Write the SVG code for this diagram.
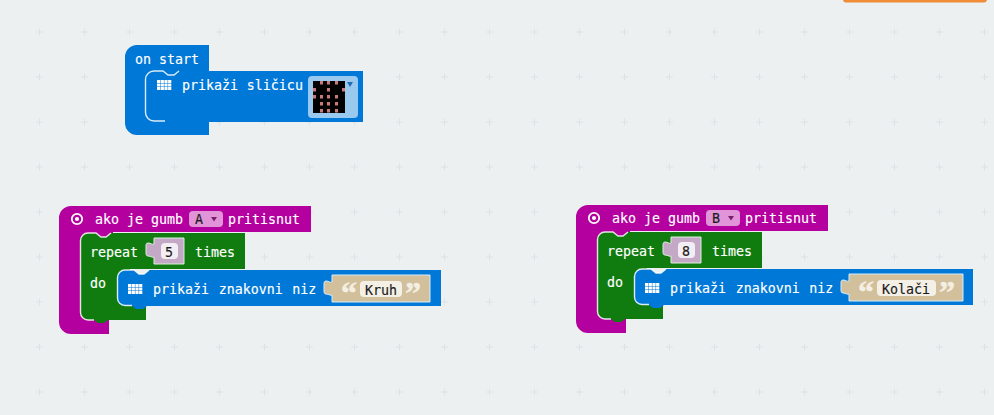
<svg xmlns="http://www.w3.org/2000/svg" width="994" height="415" viewBox="0 0 994 415">
<style>
text{font-family:"DejaVu Sans Mono","Liberation Mono",monospace;font-size:13.3px;fill:#fff;white-space:pre;stroke:#fff;stroke-width:.15}
text.dark{fill:#1b1b1b;stroke:#1b1b1b}
text.q{font-family:"Liberation Serif",serif;font-size:32px;font-weight:700;fill:#f4efe3;stroke:#f4efe3;stroke-width:.5}
.w{word-spacing:1.6px}
.hl{fill:none;stroke:#fff;stroke-width:1.4;opacity:.85}
.val{fill:#c3a9c6;stroke:#dbeedb;stroke-width:1}
.str{fill:#d2bf9b;stroke:#d6ecfa;stroke-width:1}
.dot{fill:#c87a7a}
.blue{fill:#0078d7}.purple{fill:#b4009e}.green{fill:#107c10}
.sq{fill:#fff}
</style>
<defs>
<pattern id="grid" patternUnits="userSpaceOnUse" x="17" y="9.5" width="45" height="45">
<path d="M19 22.5h7M22.5 19v7" stroke="#dde2e4" stroke-width="1" fill="none"/>
</pattern>
<g id="ic">
<path class="sq" d="M0 0h3.200v3H0zM3.700 0h3.200v3H3.700zM7.400 0h3.200v3H7.400zM11.100 0h3.200v3H11.100zM0 3.500h3.200v3H0zM3.700 3.500h3.200v3H3.700zM7.400 3.500h3.200v3H7.400zM11.100 3.500h3.200v3H11.100zM0 7h3.200v3H0zM3.700 7h3.200v3H3.700zM7.400 7h3.200v3H7.400zM11.100 7h3.200v3H11.100z"/>
</g>
<g id="radio">
<circle r="5.2" fill="none" stroke="#fff" stroke-width="1.8"/><circle r="2.1" fill="#fff"/>
</g>
</defs>
<rect width="994" height="415" fill="#ecf0f1"/>
<rect width="994" height="415" fill="url(#grid)"/>
<path d="M843 0H987a3 3 0 0 1-3 2.500H846a3 3 0 0 1-3-2.500z" fill="#f08c36"/>

<g id="on-start">
<path class="blue" d="M125 57a12 12 0 0 1 12-12H209V77H160V120H209V135H137a12 12 0 0 1-12-12z"/>
<path class="blue" d="M145 80a9 9 0 0 1 9-9h9l5 4h6l5-4H363V122H181l-4 3h-8l-4-3H154a9 9 0 0 1-9-9z"/>
<path class="hl" d="M179 71l-5 4h-6l-5-4h-9a8.500 8.500 0 0 0-8.500 8.500v33a8.500 8.500 0 0 0 8.500 8.500h11"/>
<text x="135" y="64">on start</text>
<use href="#ic" x="157" y="80"/>
<text x="182" y="89.500" style="word-spacing:.8px">prikaži sličicu</text>
<rect x="308" y="76" width="50" height="42" rx="4" fill="#99c9ef"/>
<rect x="313" y="81" width="32" height="32" fill="#000"/>
<g class="dot">
<rect x="320" y="81" width="3" height="3.500"/><rect x="327" y="81" width="3" height="3.500"/><rect x="335" y="81" width="3" height="3.500"/>
<rect x="313" y="88" width="3" height="3.500"/><rect x="327" y="88" width="3" height="3.500"/><rect x="342" y="88" width="3" height="3.500"/>
<rect x="313" y="95" width="3" height="3.500"/><rect x="320" y="95" width="3" height="3.500"/><rect x="327" y="95" width="3" height="3.500"/><rect x="335" y="95" width="3" height="3.500"/>
<rect x="320" y="102" width="3" height="3.500"/><rect x="327" y="102" width="3" height="3.500"/><rect x="335" y="102" width="3" height="3.500"/>
<rect x="320" y="109" width="3" height="3.500"/><rect x="327" y="109" width="3" height="3.500"/><rect x="335" y="109" width="3" height="3.500"/>
</g>
<path d="M347 82h6l-3 5z" fill="#1f6fb5"/>
</g>

<g id="button-a">
<path class="purple" d="M59 218a12 12 0 0 1 12-12H311V232H113V238H100V320H109V334H71a12 12 0 0 1-12-12z"/>
<path class="green" d="M80 241a8 8 0 0 1 8-8h8l5 4h5l5-4H245V269H130V306H146V320H108l-4 3h-6l-4-3H88a8 8 0 0 1-8-8z"/>
<path class="hl" d="M111 233l-5 4h-5l-5-4h-8a7.500 7.500 0 0 0-7.500 7.500v72a7.500 7.500 0 0 0 7.500 7.500h6"/>
<use href="#radio" x="77" y="219"/>
<text x="95" y="224">ako je gumb</text>
<rect x="189" y="211" width="34" height="16" rx="4" fill="#e194d8"/>
<text class="dark" x="195" y="224">A</text>
<path d="M211 217h6l-3 4.500z" fill="#7a1c70"/>
<text x="228" y="224">pritisnut</text>
<text x="90" y="257">repeat</text>
<path class="val" d="M154 238H184V264H154V257c-2 1-3-1-6-1c-2 0-2-2-2-3v-7c0-1 0-3 2-3c3 0 4 2 6 1z"/>
<rect x="161" y="243" width="17" height="16" rx="4" fill="#f3eef4"/>
<text class="dark" x="165" y="257">5</text>
<text x="195" y="257">times</text>
<text x="90" y="288">do</text>
<path class="blue" d="M117 278a8 8 0 0 1 8-8h9l5 4h5l5-4H441V306H147l-4 3h-7l-4-3H125a8 8 0 0 1-8-8z"/>
<path class="hl" d="M149 270l-5 4h-5l-5-4h-9a7.500 7.500 0 0 0-7.500 7.500v20.500a7.500 7.500 0 0 0 7.500 7.500h7"/>
<use href="#ic" x="128" y="284"/>
<text class="w" x="153" y="294">prikaži znakovni niz</text>
<path class="str" d="M332 275H430V302H332V295c-2 1-3-1-6-1c-2 0-2-2-2-3v-7c0-1 0-3 2-3c3 0 4 2 6 1z"/>
<text class="q" x="341" y="304">“</text>
<rect x="360" y="281" width="42" height="16" rx="4" fill="#f5f0e6"/>
<text class="dark" x="365" y="295">Kruh</text>
<text class="q" x="405" y="304">”</text>
</g>

<g id="button-b">
<path class="purple" d="M576 217a12 12 0 0 1 12-12H828V231H630V237H617V319H626V333H588a12 12 0 0 1-12-12z"/>
<path class="green" d="M597 240a8 8 0 0 1 8-8h8l5 4h5l5-4H762V268H647V305H663V319H625l-4 3h-6l-4-3H605a8 8 0 0 1-8-8z"/>
<path class="hl" d="M628 232l-5 4h-5l-5-4h-8a7.500 7.500 0 0 0-7.500 7.500v72a7.500 7.500 0 0 0 7.500 7.500h6"/>
<use href="#radio" x="594" y="218"/>
<text x="612" y="223">ako je gumb</text>
<rect x="706" y="210" width="34" height="16" rx="4" fill="#e194d8"/>
<text class="dark" x="712" y="223">B</text>
<path d="M728 216h6l-3 4.500z" fill="#7a1c70"/>
<text x="745" y="223">pritisnut</text>
<text x="607" y="256">repeat</text>
<path class="val" d="M671 237H701V263H671V256c-2 1-3-1-6-1c-2 0-2-2-2-3v-7c0-1 0-3 2-3c3 0 4 2 6 1z"/>
<rect x="678" y="242" width="17" height="16" rx="4" fill="#f3eef4"/>
<text class="dark" x="682" y="256">8</text>
<text x="712" y="256">times</text>
<text x="607" y="287">do</text>
<path class="blue" d="M634 277a8 8 0 0 1 8-8h9l5 4h5l5-4H973V305H664l-4 3h-7l-4-3H642a8 8 0 0 1-8-8z"/>
<path class="hl" d="M666 269l-5 4h-5l-5-4h-9a7.500 7.500 0 0 0-7.500 7.500v20.500a7.500 7.500 0 0 0 7.500 7.500h7"/>
<use href="#ic" x="645" y="283"/>
<text class="w" x="670" y="293">prikaži znakovni niz</text>
<path class="str" d="M849 274H963V301H849V294c-2 1-3-1-6-1c-2 0-2-2-2-3v-7c0-1 0-3 2-3c3 0 4 2 6 1z"/>
<text class="q" x="858" y="303">“</text>
<rect x="877" y="280" width="59" height="16" rx="4" fill="#f5f0e6"/>
<text class="dark" x="882" y="294">Kolači</text>
<text class="q" x="939" y="303">”</text>
</g>

<g id="connectors"></g>
</svg>
